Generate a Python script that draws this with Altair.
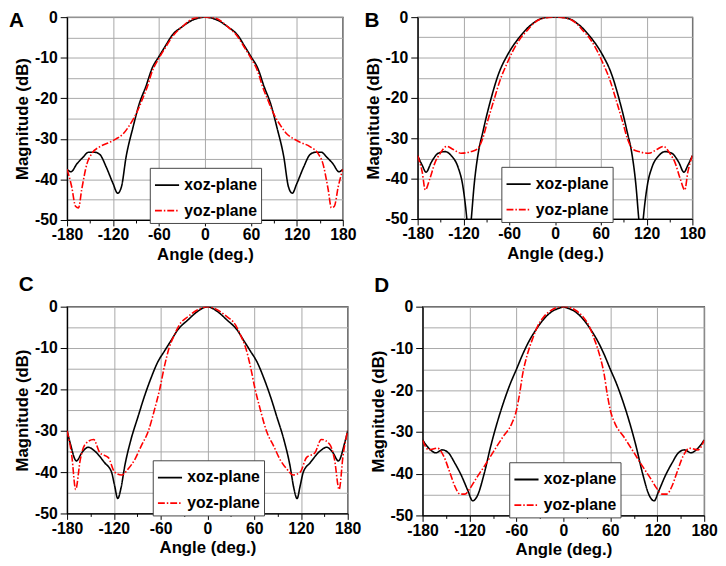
import altair as alt
import pandas as pd

FONT = "Liberation Sans"
SERIES = ["xoz-plane", "yoz-plane"]

# ---------------- Panel A ----------------
A_xoz_angle = [-180, -175, -167, -159, -152, -144, -137, -129, -120, -114, -109, -103, -94, -86, -77, -69, -60, -51, -43, -30, -17, -4,
               0,
               4, 17, 30, 43, 51, 60, 69, 77, 86, 94, 103, 109, 114, 120, 129, 137, 144, 152, 159, 167, 175, 180]
A_xoz_db = [-37.5, -38.1, -36.1, -34.5, -33.3, -33.3, -33.9, -36.9, -41.0, -43.4, -41.8, -34.5, -27.2, -21.5, -17.0, -12.6, -9.7, -6.9, -4.5, -2.4, -0.8, -0.05,
            0.0,
            -0.05, -0.8, -2.4, -4.5, -6.9, -9.7, -12.6, -17.0, -21.5, -27.2, -34.5, -41.8, -43.4, -41.0, -36.9, -33.9, -33.3, -33.3, -34.5, -36.1, -38.1, -37.5]
A_yoz_angle = [-180, -174, -169, -165, -161, -154, -148, -137, -124, -116, -107, -99, -90, -81, -75, -69, -60, -51, -43, -30, -13,
               0,
               13, 30, 43, 51, 60, 69, 75, 81, 90, 99, 107, 116, 124, 137, 148, 154, 161, 165, 169, 174, 180]
A_yoz_db = [-37.5, -41.8, -46.6, -47.0, -42.6, -36.1, -33.7, -31.9, -30.8, -30.0, -28.8, -26.8, -23.9, -19.9, -17.0, -13.4, -10.1, -7.3, -4.9, -2.4, -0.2,
            0.0,
            -0.2, -2.4, -4.9, -7.3, -10.1, -13.4, -17.0, -19.9, -23.9, -26.8, -28.8, -30.0, -30.8, -31.9, -33.7, -36.1, -42.6, -47.0, -46.6, -41.8, -37.5]

# ---------------- Panel B ----------------
B_xoz_angle = [-180, -174, -169, -162, -153, -144, -136, -127, -121, -117, -115, -112.5, -110, -106, -100, -95, -90, -85, -80, -75, -70, -65, -60, -55, -50, -45, -40, -35, -30, -25, -20, -15, -10,
               0,
               10, 15, 20, 25, 30, 35, 40, 45, 50, 55, 60, 65, 70, 75, 80, 85, 90, 95, 100, 106, 110, 112.5, 115, 117, 121, 127, 136, 144, 153, 162, 169, 174, 180]
B_xoz_db = [-34.3, -36.7, -38.4, -35.9, -33.7, -33.3, -34.3, -37.2, -41.6, -47.3, -51.0, -55.0, -50.5, -41.6, -33.0, -28.8, -24.7, -21.0, -17.6, -14.6, -12.2, -10.3, -8.6, -7.1, -5.8, -4.6, -3.5, -2.5, -1.7, -1.0, -0.5, -0.2, -0.05,
            0.0,
            -0.05, -0.2, -0.5, -1.0, -1.7, -2.5, -3.5, -4.6, -5.8, -7.1, -8.6, -10.3, -12.2, -14.6, -17.6, -21.0, -24.7, -28.8, -33.0, -41.6, -50.5, -55.0, -51.0, -47.3, -41.6, -37.2, -34.3, -33.3, -33.7, -35.9, -38.4, -36.7, -34.3]
B_yoz_angle = [-180, -174, -170, -164, -157, -151, -142, -134, -123, -110, -102, -95, -89, -80, -72, -63, -54, -46, -37, -27, -14,
               0,
               14, 27, 37, 46, 54, 63, 72, 80, 89, 95, 102, 110, 123, 134, 142, 151, 157, 164, 170, 174, 180]
B_yoz_db = [-34.3, -38.4, -42.8, -40.0, -35.9, -33.9, -32.0, -32.7, -33.7, -33.3, -32.7, -30.2, -26.2, -20.5, -15.6, -11.5, -7.9, -5.4, -3.4, -1.4, -0.2,
            0.0,
            -0.2, -1.4, -3.4, -5.4, -7.9, -11.5, -15.6, -20.5, -26.2, -30.2, -32.7, -33.3, -33.7, -32.7, -32.0, -33.9, -35.9, -40.0, -42.8, -38.4, -34.3]

# ---------------- Panel C ----------------
C_xoz_angle = [-180, -176, -168, -161, -153, -144, -132, -123, -119, -115, -111, -106, -98, -89, -81, -72, -64, -55, -47, -38, -25, -13, -4,
               0,
               4, 13, 25, 38, 47, 55, 64, 72, 81, 89, 98, 106, 111, 115, 119, 123, 132, 144, 153, 161, 168, 176, 180]
C_xoz_db = [-30.0, -33.0, -37.3, -35.3, -34.0, -35.0, -37.7, -40.0, -43.3, -46.4, -44.0, -38.5, -32.1, -26.6, -21.8, -17.1, -13.5, -10.7, -8.3, -5.6, -3.2, -1.2, -0.2,
            0.0,
            -0.2, -1.2, -3.2, -5.6, -8.3, -10.7, -13.5, -17.1, -21.8, -26.6, -32.1, -38.5, -44.0, -46.4, -43.3, -40.0, -37.7, -35.0, -34.0, -35.3, -37.3, -33.0, -30.0]
C_yoz_angle = [-180, -174, -169, -163, -157, -146, -138, -127, -119, -110, -102, -93, -85, -76, -68, -61, -55, -49, -42, -36, -25, -13,
               0,
               13, 25, 36, 42, 49, 55, 61, 68, 76, 85, 93, 102, 110, 119, 127, 138, 146, 157, 163, 169, 174, 180]
C_yoz_db = [-30.0, -36.0, -44.2, -36.9, -33.3, -32.1, -35.3, -36.5, -40.0, -40.7, -39.3, -36.9, -33.7, -30.2, -25.0, -19.8, -14.3, -9.9, -6.7, -4.4, -2.4, -0.8,
            0.0,
            -0.8, -2.4, -4.4, -6.7, -9.9, -14.3, -19.8, -25.0, -30.2, -33.7, -36.9, -39.3, -40.7, -40.0, -36.5, -35.3, -32.1, -33.3, -36.9, -44.2, -36.0, -30.0]

# ---------------- Panel D ----------------
D_xoz_angle = [-180, -172, -163, -155, -147, -139, -130, -122, -116, -110, -101, -93, -85, -77, -68, -60, -52, -44, -35, -27, -15, -3,
               0,
               3, 15, 27, 35, 44, 52, 60, 68, 77, 85, 93, 101, 110, 116, 122, 130, 139, 147, 155, 163, 172, 180]
D_xoz_db = [-31.9, -33.9, -35.0, -34.3, -35.0, -37.4, -40.6, -44.1, -46.5, -45.3, -39.8, -33.5, -28.0, -23.2, -18.5, -15.0, -11.4, -8.3, -5.5, -3.4, -1.2, -0.2,
            0.0,
            -0.2, -1.2, -3.4, -5.5, -8.3, -11.4, -15.0, -18.5, -23.2, -28.0, -33.5, -39.8, -45.3, -46.5, -44.1, -40.6, -37.4, -35.0, -34.3, -35.0, -33.9, -31.9]
D_yoz_angle = [-180, -172, -161, -153, -145, -139, -132, -126, -120, -112, -101, -89, -77, -66, -60, -56, -52, -46, -39, -33, -25, -15, -3,
               0,
               3, 15, 25, 33, 39, 46, 52, 56, 60, 66, 77, 89, 101, 112, 120, 126, 132, 139, 145, 153, 161, 172, 180]
D_yoz_db = [-32.0, -34.3, -33.9, -35.8, -39.8, -42.9, -44.9, -44.9, -43.7, -41.3, -38.2, -34.6, -31.1, -28.0, -24.8, -20.9, -16.1, -11.4, -7.5, -4.7, -2.4, -0.8, 0.0,
            0.0,
            0.0, -0.8, -2.4, -4.7, -7.5, -11.4, -16.1, -20.9, -24.8, -28.0, -31.1, -34.6, -38.2, -41.3, -43.7, -44.9, -44.9, -42.9, -39.8, -35.8, -33.9, -34.3, -32.0]

X_TICKS = [-180, -150, -120, -90, -60, -30, 0, 30, 60, 90, 120, 150, 180]
Y_TICKS = [-50, -45, -40, -35, -30, -25, -20, -15, -10, -5, 0]


def series_df(angles, values, name):
    return pd.DataFrame({"angle": angles, "db": values, "series": [name] * len(angles)})


def panel(letter, xa, xv, ya, yv, w, h, lx, ly, tx, ty):
    df = pd.concat([series_df(xa, xv, SERIES[0]), series_df(ya, yv, SERIES[1])], ignore_index=True)

    def leg():
        return alt.Legend(orient="none", legendX=lx, legendY=ly, title=None,
                          fillColor="white", strokeColor="#444444", padding=4,
                          symbolType="stroke", symbolSize=600, symbolStrokeWidth=1.8,
                          labelFont=FONT, labelFontSize=16, labelFontWeight="bold",
                          labelColor="black", labelOffset=4, rowPadding=4)

    x_axis = alt.Axis(values=X_TICKS, title="Angle (deg.)",
                      labelExpr="datum.value % 60 == 0 ? toString(datum.value) : ''",
                      tickSize={"condition": {"test": "datum.value % 60 != 0", "value": 3}, "value": 6},
                      gridOpacity={"condition": {"test": "datum.value % 60 != 0", "value": 0}, "value": 1},
                      labelFlush=False, labelOverlap=False, labelPadding=1, titlePadding=4)
    y_axis = alt.Axis(values=Y_TICKS, title="Magnitude (dB)",
                      labelExpr="datum.value % 10 == 0 ? toString(datum.value) : ''",
                      tickOpacity={"condition": {"test": "datum.value % 10 != 0", "value": 0}, "value": 1},
                      labelFlush=False, labelOverlap=False, tickSize=7, labelPadding=3, titlePadding=3)

    lines = alt.Chart(df).mark_line(clip=True, interpolate="monotone", strokeWidth=1.6).encode(
        x=alt.X("angle:Q", scale=alt.Scale(domain=[-180, 180], nice=False, zero=False), axis=x_axis),
        y=alt.Y("db:Q", scale=alt.Scale(domain=[-50, 0], nice=False, zero=False), axis=y_axis),
        color=alt.Color("series:N", scale=alt.Scale(domain=SERIES, range=["#000000", "#ff0000"]), legend=leg()),
        strokeDash=alt.StrokeDash("series:N", scale=alt.Scale(domain=SERIES, range=[[1, 0], [7, 2, 1.5, 2]]), legend=leg()),
    )
    tag = alt.Chart(pd.DataFrame({"tag": [letter]})).mark_text(
        align="left", baseline="top", font=FONT, fontSize=21, fontWeight="bold", color="black"
    ).encode(x=alt.value(tx), y=alt.value(ty), text="tag:N")
    return alt.layer(lines, tag).properties(width=w, height=h)


pA = panel("A", A_xoz_angle, A_xoz_db, A_yoz_angle, A_yoz_db, 280, 206, 84, 153, -59, -6.5)
pB = panel("B", B_xoz_angle, B_xoz_db, B_yoz_angle, B_yoz_db, 279, 205, 85, 152, -54, -7.5)
pC = panel("C", C_xoz_angle, C_xoz_db, C_yoz_angle, C_yoz_db, 285, 210, 87, 156, -49, -32.5)
pD = panel("D", D_xoz_angle, D_xoz_db, D_yoz_angle, D_yoz_db, 286, 212, 88, 158, -49, -31.5)


def res(c):
    return c.resolve_scale(color="independent", strokeDash="independent").resolve_legend(
        color="independent", strokeDash="independent")


row1 = res(alt.hconcat(pA, pB, spacing=7))
row2 = res(alt.hconcat(pC, pD, spacing=7))
base = res(alt.vconcat(row1, row2, spacing=10)).configure_axis(
    labelFont=FONT, labelFontSize=16, labelFontWeight="bold", labelColor="black",
    titleFont=FONT, titleFontSize=17, titleFontWeight="bold", titleColor="black",
    gridColor="#a8a8a8", gridWidth=1, gridOpacity=1, tickColor="black", domainColor="black", domainWidth=1.2,
).configure_view(stroke="#222222", strokeWidth=1.3)

try:
    chart = base.properties(padding={"left": 0, "top": -4, "right": 0, "bottom": 0}, background="white")
    chart.to_dict()
except Exception:
    chart = base.properties(padding=0, background="white")

chart.save("out.html", embed_options={"renderer": "svg", "actions": False})
